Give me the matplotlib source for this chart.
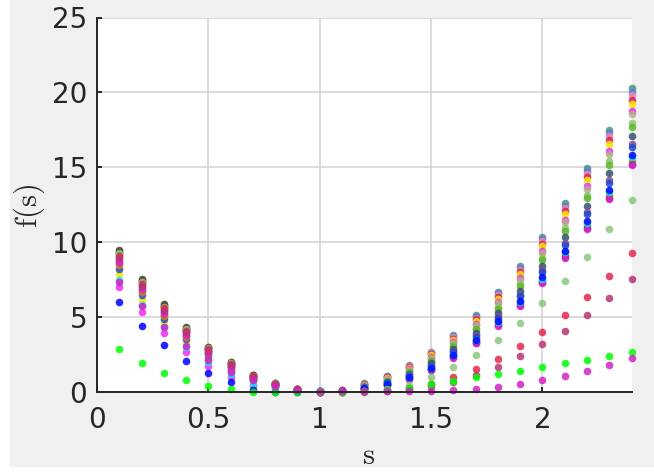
import matplotlib
matplotlib.use("Agg")
import matplotlib.pyplot as plt
from matplotlib.patches import Rectangle

# s grid shared by every series
s = [0.1, 0.2, 0.3, 0.4, 0.5, 0.6, 0.7, 0.8, 0.9, 1.0, 1.1, 1.2,
     1.3, 1.4, 1.5, 1.6, 1.7, 1.8, 1.9, 2.0, 2.1, 2.2, 2.3, 2.4]

# values (left branch, then right branch)
teal = [9.4, 7.5, 5.81, 4.29, 3.0, 1.97, 1.15, 0.61, 0.2, 0.05, 0.12, 0.58, 1.07, 1.8, 2.69, 3.8, 5.14, 6.7, 8.41, 10.37, 12.6, 14.93, 17.49, 20.27]
slate = [9.01, 7.15, 5.5, 4.03, 2.79, 1.81, 1.02, 0.54, 0.17, 0.04, 0.12, 0.56, 1.04, 1.75, 2.63, 3.72, 5.05, 6.59, 8.28, 10.21, 12.42, 14.73, 17.26, 20.01]
pink = [9.2, 7.32, 5.66, 4.16, 2.89, 1.89, 1.08, 0.57, 0.19, 0.05, 0.11, 0.55, 1.01, 1.72, 2.58, 3.66, 4.97, 6.49, 8.17, 10.09, 12.27, 14.57, 17.07, 19.81]
crimson = [9.3, 7.41, 5.73, 4.22, 2.94, 1.93, 1.11, 0.59, 0.19, 0.05, 0.11, 0.52, 0.98, 1.66, 2.51, 3.57, 4.86, 6.36, 8.01, 9.9, 12.05, 14.33, 16.8, 19.5]
yellow = [7.86, 6.12, 4.6, 3.26, 2.2, 1.35, 0.67, 0.31, 0.1, 0.02, 0.1, 0.5, 0.95, 1.62, 2.45, 3.5, 4.76, 6.24, 7.88, 9.75, 11.87, 14.12, 16.56, 19.25]
magenta = [7.0, 5.36, 3.92, 2.69, 1.76, 1.0, 0.4, 0.15, 0.05, 0.0, 0.09, 0.47, 0.88, 1.52, 2.32, 3.35, 4.57, 6.01, 7.61, 9.43, 11.51, 13.72, 16.1, 18.73]
tan = [9.35, 7.45, 5.77, 4.25, 2.97, 1.95, 1.13, 0.6, 0.19, 0.05, 0.09, 0.45, 0.86, 1.49, 2.28, 3.29, 4.5, 5.92, 7.51, 9.31, 11.36, 13.56, 15.92, 18.53]
lightgreen = [9.28, 7.4, 5.72, 4.21, 2.93, 1.92, 1.1, 0.58, 0.18, 0.05, 0.08, 0.41, 0.79, 1.39, 2.14, 3.12, 4.29, 5.67, 7.21, 8.97, 10.96, 13.12, 15.41, 17.97]
green = [9.22, 7.33, 5.67, 4.17, 2.9, 1.9, 1.08, 0.57, 0.18, 0.04, 0.08, 0.39, 0.76, 1.34, 2.08, 3.05, 4.2, 5.56, 7.08, 8.81, 10.78, 12.92, 15.18, 17.71]
darkslate = [8.59, 6.78, 5.17, 3.75, 2.58, 1.64, 0.89, 0.46, 0.15, 0.03, 0.06, 0.34, 0.69, 1.23, 1.93, 2.86, 3.97, 5.28, 6.76, 8.44, 10.34, 12.43, 14.62, 17.1]
purple = [8.84, 7.0, 5.37, 3.91, 2.71, 1.74, 0.97, 0.5, 0.16, 0.04, 0.06, 0.31, 0.62, 1.14, 1.81, 2.71, 3.78, 5.05, 6.49, 8.12, 9.97, 12.03, 14.16, 16.58]
blue = [8.23, 6.45, 4.89, 3.51, 2.39, 1.5, 0.78, 0.39, 0.13, 0.03, 0.05, 0.29, 0.6, 1.1, 1.76, 2.65, 3.7, 4.96, 6.39, 8.0, 9.83, 11.87, 13.97, 16.38]
orange = [8.49, 6.69, 5.1, 3.68, 2.53, 1.6, 0.86, 0.44, 0.14, 0.03, 0.04, 0.22, 0.49, 0.94, 1.54, 2.38, 3.36, 4.55, 5.91, 7.44, 9.17, 11.14, 13.14, 15.46]
brown = [9.45, 7.54, 5.85, 4.32, 3.02, 1.99, 1.16, 0.62, 0.2, 0.05, 0.03, 0.21, 0.46, 0.9, 1.49, 2.32, 3.29, 4.46, 5.8, 7.31, 9.02, 10.98, 12.95, 15.25]
orchid = [8.69, 6.86, 5.25, 3.81, 2.63, 1.68, 0.92, 0.47, 0.15, 0.03, 0.03, 0.2, 0.45, 0.88, 1.47, 2.29, 3.25, 4.41, 5.75, 7.25, 8.95, 10.9, 12.86, 15.15]
cyan = [7.49, 5.8, 4.31, 3.02, 2.01, 1.2, 0.55, 0.24, 0.08, 0.01, 0.04, 0.24, 0.51, 0.97, 1.59, 2.44, 3.44, 4.64, 6.02, 7.56, 9.32, 11.3, 13.32, 15.66]
pureblue = [6.0, 4.4, 3.12, 2.07, 1.24, 0.64, 0.15, 0.0, 0.03, 0.06, 0.04, 0.25, 0.53, 1.0, 1.63, 2.49, 3.5, 4.71, 6.1, 7.66, 9.42, 11.42, 13.46, 15.82]
sage = [9.25, 7.37, 5.7, 4.19, 2.92, 1.91, 1.1, 0.58, 0.19, 0.05, 0.03, 0.08, 0.2, 0.5, 1.02, 1.69, 2.49, 3.47, 4.63, 5.92, 7.41, 9.03, 10.86, 12.82]
red = [9.11, 7.23, 5.58, 4.09, 2.84, 1.85, 1.05, 0.55, 0.18, 0.03, 0.02, 0.06, 0.15, 0.3, 0.53, 0.98, 1.54, 2.22, 3.07, 4.03, 5.14, 6.36, 7.74, 9.26]
berry = [8.96, 7.1, 5.46, 3.99, 2.77, 1.79, 1.01, 0.53, 0.17, 0.02, 0.01, 0.03, 0.08, 0.2, 0.4, 0.69, 1.13, 1.69, 2.4, 3.18, 4.09, 5.12, 6.27, 7.54]
lime = [2.87, 1.96, 1.29, 0.8, 0.42, 0.18, 0.02, 0.0, 0.0, 0.01, 0.03, 0.07, 0.14, 0.3, 0.52, 0.75, 0.98, 1.2, 1.42, 1.65, 1.92, 2.16, 2.4, 2.67]
violet = [7.32, 5.74, 4.32, 3.1, 2.14, 1.36, 0.78, 0.38, 0.13, 0.03, 0.04, 0.05, 0.06, 0.07, 0.08, 0.11, 0.22, 0.35, 0.53, 0.8, 1.07, 1.42, 1.8, 2.25]

series = [
    (teal, '#3c9a7e'), (slate, '#6a72dc'), (pink, '#e48aa6'),
    (crimson, '#dc1e5a'), (yellow, '#f4e800'), (magenta, '#f22af2'),
    (tan, '#b4ae8c'), (lightgreen, '#8ec46c'), (green, '#5cb82e'),
    (darkslate, '#34506c'), (purple, '#8e4892'), (blue, '#1a4cc8'),
    (orange, '#d87c12'), (brown, '#4e3e2e'), (orchid, '#dc20d2'),
    (cyan, '#10e8f0'), (pureblue, '#0000ff'), (sage, '#8cc87c'),
    (red, '#e4284c'), (berry, '#b83478'), (lime, '#00ff00'),
    (violet, '#d222c2'),
]

plt.rcParams['mathtext.fontset'] = 'cm'

fig = plt.figure(figsize=(6.54, 4.72), dpi=100, facecolor='white')
# grey figure area (MATLAB style), thin white strip left/bottom
fig.patches.append(Rectangle((10 / 654, 5 / 472), 1, 1, transform=fig.transFigure,
                             facecolor='#f0f0f0', edgecolor='none', zorder=-10))

ax = fig.add_axes([97 / 654, 80 / 472, 534.5 / 654, 374.5 / 472])
ax.set_facecolor('white')

for vals, col in series:
    ax.scatter(s, vals, s=30, color=col, alpha=0.85, linewidths=0,
               clip_on=False, zorder=2)

ax.set_xlim(0, 2.4)
ax.set_ylim(0, 25)
ax.set_xticks([0, 0.5, 1, 1.5, 2])
ax.set_xticklabels(['0', '0.5', '1', '1.5', '2'])
ax.set_yticks([0, 5, 10, 15, 20, 25])
ax.set_axisbelow(True)
ax.grid(True, color='#d4d4d4', linewidth=1.2)

for sp in ['top', 'right']:
    ax.spines[sp].set_visible(False)
for sp in ['left', 'bottom']:
    ax.spines[sp].set_linewidth(1.4)
    ax.spines[sp].set_color('#262626')

ax.tick_params(direction='in', length=3.6, width=1.4, color='#262626',
               labelsize=20, labelcolor='#262626')
ax.tick_params(axis='x', pad=10)
ax.tick_params(axis='y', pad=7)

fig.text(369 / 654, 1 - 455 / 472, r'$\mathrm{s}$', fontsize=22,
         ha='center', va='center', color='#262626')
fig.text(29.5 / 654, 1 - 206 / 472, r'$\mathrm{f(s)}$', fontsize=22,
         rotation=90, ha='center', va='center', color='#262626')

fig.savefig('out.png', dpi=100, facecolor=fig.get_facecolor())
